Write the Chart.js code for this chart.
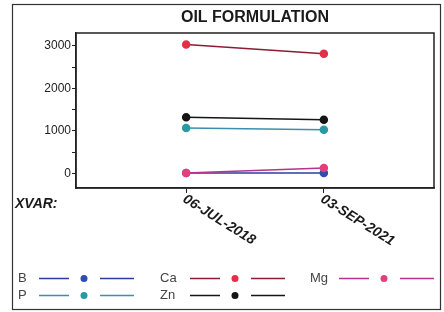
<!DOCTYPE html>
<html>
<head>
<meta charset="utf-8">
<script src="https://cdn.jsdelivr.net/npm/chart.js@4"></script>
<style>
  body { margin: 0; background: #fff; }
  #wrap { width: 444px; height: 312px; }
</style>
</head>
<body>
<div id="wrap"><canvas id="oil" width="444" height="312"></canvas></div>
<script>
// data
const dates = ['06-JUL-2018', '03-SEP-2021'];
const elements = ['B', 'P', 'Ca', 'Zn', 'Mg'];
const bVals = [10, 10];
const pVals = [1070, 1030];
const caVals = [3030, 2810];
const znVals = [1320, 1260];
const mgVals = [10, 130];
const yTicks = [0, 500, 1000, 1500, 2000, 2500, 3000];

const lineColors = ['#2c3c9e', '#3a8fae', '#8c1c32', '#151515', '#b4348a'];
const dotColors = ['#2d4db0', '#2a9aa2', '#e2304a', '#151515', '#e2407c'];
const allVals = [bVals, pVals, caVals, znVals, mgVals];

function pts(vals) {
  return vals.map((v, i) => ({ x: i, y: v }));
}

const datasets = elements.map((name, i) => ({
  label: name,
  data: pts(allVals[i]),
  borderColor: lineColors[i],
  backgroundColor: dotColors[i],
  pointBackgroundColor: dotColors[i],
  pointBorderColor: dotColors[i],
  borderWidth: 1.5,
  pointRadius: 3.5,
  tension: 0,
  order: name === 'Mg' ? 0 : (name === 'Ca' ? 1 : 2)
}));

// frame, plot box, title, rotated x labels, XVAR and the legend
const decor = {
  id: 'decor',
  beforeDraw(chart) {
    const ctx = chart.ctx;
    ctx.save();
    ctx.fillStyle = '#fff';
    ctx.fillRect(0, 0, chart.width, chart.height);
    ctx.strokeStyle = '#333';
    ctx.lineWidth = 1.2;
    ctx.strokeRect(12.5, 4.5, 428, 305);
    ctx.restore();
  },
  afterDraw(chart) {
    const ctx = chart.ctx;
    const a = chart.chartArea;
    ctx.save();
    ctx.strokeStyle = '#222';
    ctx.lineWidth = 1.5;
    ctx.strokeRect(a.left, a.top, a.right - a.left, a.bottom - a.top);

    // title
    ctx.fillStyle = '#1a1a1a';
    ctx.font = 'bold 16px "Liberation Sans", Arial, sans-serif';
    ctx.textAlign = 'center';
    ctx.textBaseline = 'middle';
    ctx.fillText('OIL FORMULATION', (a.left + a.right) / 2, 18);

    // XVAR:
    ctx.font = 'italic bold 14px "Liberation Sans", Arial, sans-serif';
    ctx.textAlign = 'left';
    ctx.fillText('XVAR:', 15, 204);

    // x labels going down to the right
    const xs = chart.scales.x;
    dates.forEach((d, i) => {
      const px = xs.getPixelForValue(i);
      ctx.save();
      ctx.translate(px - 2, 198);
      ctx.rotate(32 * Math.PI / 180);
      ctx.textBaseline = 'middle';
      ctx.fillText(d, 0, 0);
      ctx.restore();
    });

    // legend: 3 columns x 2 rows
    const labelX = [18, 160, 310];
    const lineX = [39, 190, 339];
    const rowY = [278, 295];
    ctx.font = '13px "Liberation Sans", Arial, sans-serif';
    chart.data.datasets.forEach((ds, i) => {
      const col = Math.floor(i / 2);
      const row = i % 2;
      const y = rowY[row];
      const x0 = lineX[col];
      ctx.fillStyle = '#444';
      ctx.fillText(ds.label, labelX[col], y);
      ctx.strokeStyle = ds.borderColor;
      ctx.lineWidth = 1.6;
      ctx.beginPath();
      ctx.moveTo(x0, y + 0.5);
      ctx.lineTo(x0 + 30, y + 0.5);
      ctx.moveTo(x0 + 61, y + 0.5);
      ctx.lineTo(x0 + 95, y + 0.5);
      ctx.stroke();
      ctx.fillStyle = ds.pointBackgroundColor;
      ctx.beginPath();
      ctx.arc(x0 + 45, y + 0.5, 3.5, 0, Math.PI * 2);
      ctx.fill();
    });
    ctx.restore();
  }
};

new Chart(document.getElementById('oil'), {
  type: 'line',
  data: { datasets: datasets },
  options: {
    responsive: false,
    animation: false,
    layout: { padding: { top: 33, left: 13, right: 10, bottom: 0 } },
    plugins: {
      legend: { display: false },
      title: { display: false },
      tooltip: { enabled: false }
    },
    scales: {
      x: {
        type: 'linear',
        min: -0.8,
        max: 1.8,
        afterBuildTicks: (s) => { s.ticks = dates.map((d, i) => ({ value: i })); },
        afterFit: (s) => { s.height = 124; },
        grid: { drawOnChartArea: false, drawTicks: true, tickLength: 5, color: '#222' },
        border: { display: true, color: '#222', width: 1.5 },
        ticks: { display: false }
      },
      y: {
        min: -340,
        max: 3300,
        afterBuildTicks: (s) => { s.ticks = yTicks.map(v => ({ value: v })); },
        afterFit: (s) => { s.width = 63; },
        grid: { drawOnChartArea: false, drawTicks: true, tickLength: 4, color: '#222' },
        border: { display: true, color: '#222', width: 1.5 },
        ticks: {
          padding: 1,
          color: '#222',
          font: { family: '"Liberation Sans", Arial, sans-serif', size: 12 },
          callback: (v) => (v % 1000 === 0 ? String(v) : '')
        }
      }
    }
  },
  plugins: [decor]
});
</script>
</body>
</html>
